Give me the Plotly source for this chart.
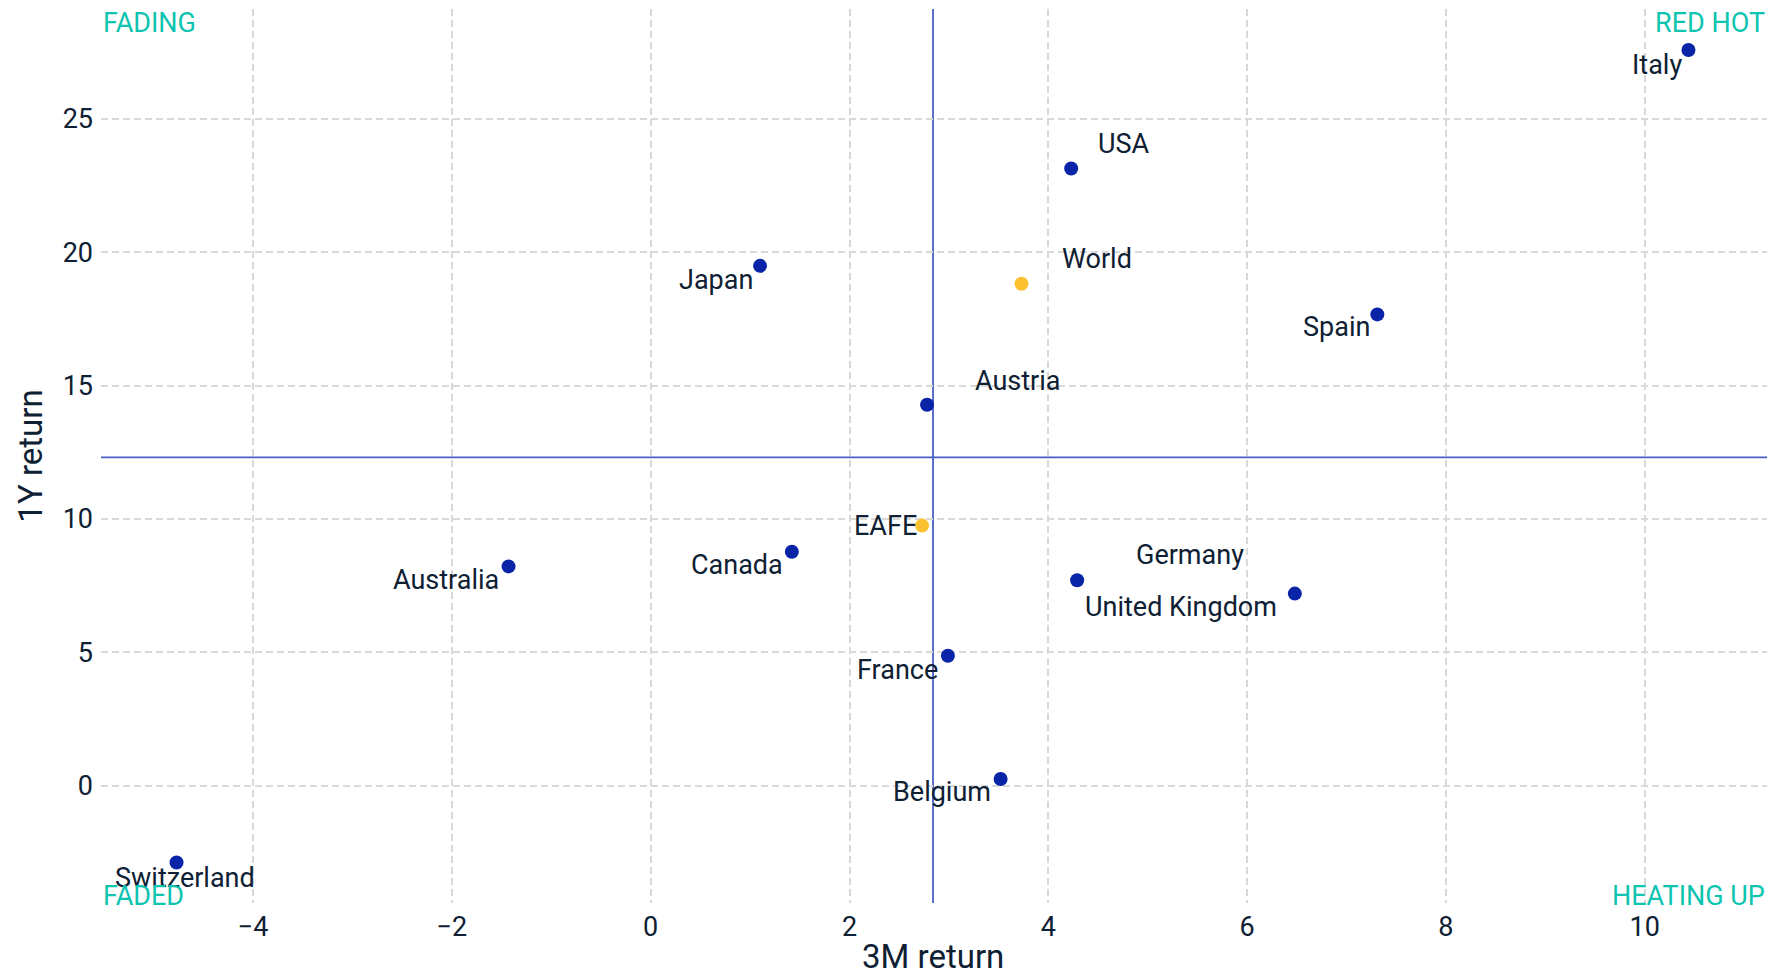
import plotly.graph_objects as go

# ---- data ----
countries = ["Italy", "USA", "World", "Japan", "Spain", "Austria", "EAFE", "Canada",
             "Australia", "Germany", "United Kingdom", "France", "Belgium", "Switzerland"]
ret_3m = [10.44, 4.23, 3.73, 1.10, 7.31, 2.78, 2.73, 1.42, -1.43, 4.29, 6.48, 2.99, 3.52, -4.77]
ret_1y = [27.58, 23.14, 18.82, 19.49, 17.67, 14.28, 9.75, 8.77, 8.22, 7.70, 7.20, 4.87, 0.25, -2.88]
benchmarks = ["World", "EAFE"]
ref_3m = 2.84
ref_1y = 12.31
x_ticks = [-4, -2, 0, 2, 4, 6, 8, 10]
y_ticks = [0, 5, 10, 15, 20, 25]
quadrants = ["FADING", "RED HOT", "FADED", "HEATING UP"]
x_title = "3M return"
y_title = "1Y return"

# ---- styles / positions ----
label_offsets = {  # pixel shifts (dx, dy up)
    "Italy": (-31, -15), "USA": (53, 24), "World": (76, 25), "Japan": (-44, -14),
    "Spain": (-41, -13), "Austria": (91, 24), "EAFE": (-37, 0), "Canada": (-55, -13),
    "Australia": (-63, -14), "Germany": (113, 25), "United Kingdom": (-114, -13),
    "France": (-50, -14), "Belgium": (-59, -13), "Switzerland": (8, -16),
}
NAVY = "#0a24a8"
YELLOW = "#fbc12e"
TEXT = "#0e2033"
TEAL = "#0cc4b0"
FONT = "Roboto"
LBL = 27

colors = [YELLOW if c in benchmarks else NAVY for c in countries]

fig = go.Figure()
fig.add_shape(type="line", xref="x", yref="paper", x0=ref_3m, x1=ref_3m, y0=0, y1=1,
              line=dict(color="#4a5fc4", width=1.8), layer="below")
fig.add_shape(type="line", xref="paper", yref="y", x0=0, x1=1, y0=ref_1y, y1=ref_1y,
              line=dict(color="#4a5fc4", width=1.8), layer="below")

fig.add_trace(go.Scatter(x=ret_3m, y=ret_1y, mode="markers",
                         marker=dict(size=14, color=colors, line=dict(width=0)),
                         hovertext=countries, showlegend=False, cliponaxis=False))

for c, xv, yv in zip(countries, ret_3m, ret_1y):
    dx, dy = label_offsets[c]
    fig.add_annotation(x=xv, y=yv, text=c, showarrow=False, xshift=dx, yshift=dy,
                       font=dict(family=FONT, size=LBL, color=TEXT))

corner_pos = [(0, 1, "left", "top", 4), (1, 1, "right", "top", 4),
              (0, 0, "left", "bottom", -11), (1, 0, "right", "bottom", -11)]
for txt, (px, py, xa, ya, ys) in zip(quadrants, corner_pos):
    fig.add_annotation(xref="paper", yref="paper", x=px, y=py, text=txt, showarrow=False,
                       xanchor=xa, yanchor=ya, yshift=ys,
                       font=dict(family=FONT, size=LBL, color=TEAL))

# x-axis title (placed below tick labels)
fig.add_annotation(xref="x", yref="paper", x=ref_3m, y=0, text=x_title, showarrow=False,
                   xanchor="center", yanchor="middle", yshift=-53,
                   font=dict(family=FONT, size=33, color=TEXT))

grid = dict(showgrid=True, gridcolor="#d9d9d9", gridwidth=1.8, griddash="7px,4px",
            zeroline=False, showline=False, ticks="", automargin=False,
            tickfont=dict(family=FONT, size=LBL, color=TEXT))

fig.update_xaxes(range=[-5.53, 11.23], tickvals=x_ticks,
                 ticktext=[str(v).replace("-", "\u2212") for v in x_ticks],
                 ticklabelstandoff=5, **grid)
fig.update_yaxes(range=[-4.40, 29.12], tickvals=y_ticks,
                 ticktext=[str(v) for v in y_ticks],
                 ticklabelstandoff=7,
                 title=dict(text=y_title, font=dict(family=FONT, size=33, color=TEXT), standoff=10),
                 **grid)

fig.update_layout(width=1759, height=964, plot_bgcolor="white", paper_bgcolor="white",
                  margin=dict(l=93, r=0, t=1, b=69), font=dict(family=FONT, color=TEXT))

fig.write_html("out.html")
